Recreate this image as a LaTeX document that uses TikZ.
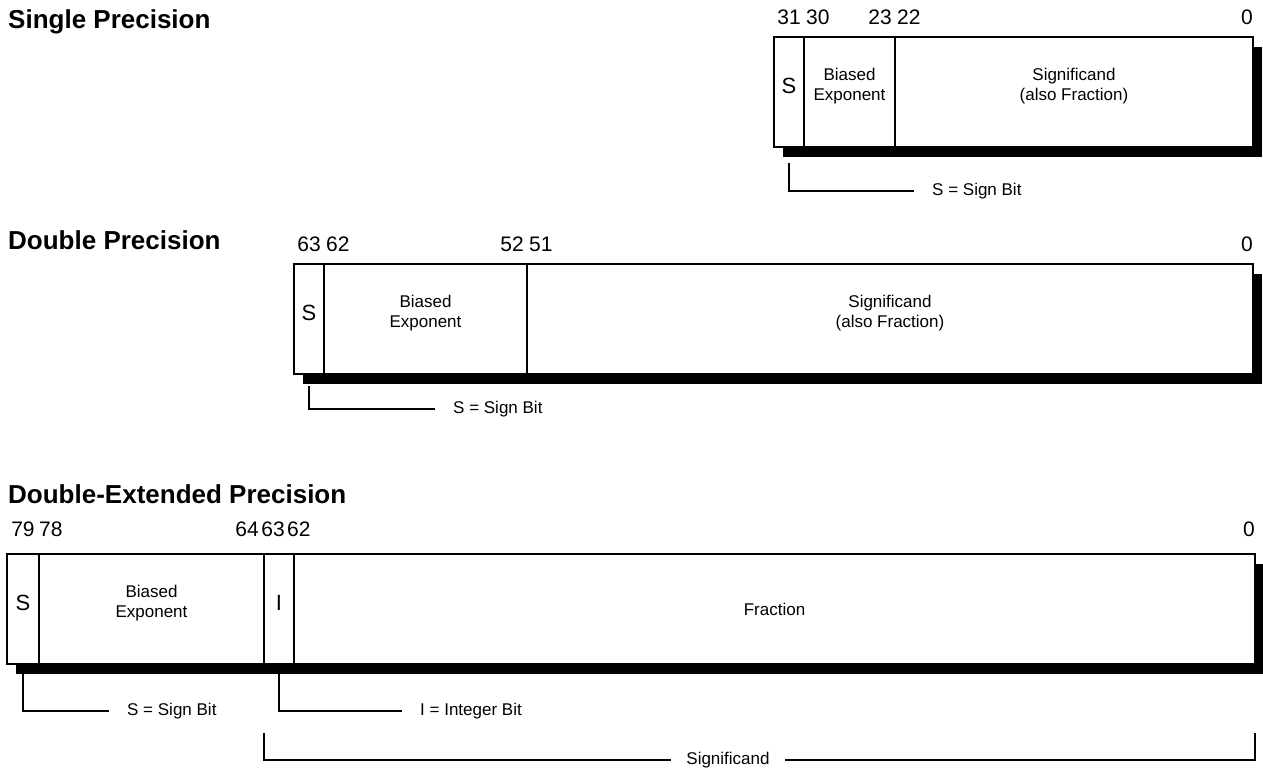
\documentclass[tikz,border=0pt]{standalone}
\usepackage{fontspec}
\setmainfont{Liberation Sans}
\usetikzlibrary{positioning, shadows}

\begin{document}
\begin{tikzpicture}[x=1pt, y=-1pt,
    fld/.style={rectangle, draw, fill=white, line width=2.8pt, minimum width=#1, minimum height=110pt,
                inner sep=0pt, outer sep=0pt,
                drop shadow={shadow xshift=9pt, shadow yshift=-10pt, fill=black, opacity=1}},
    title/.style={font=\fontsize{26}{30}\selectfont\bfseries, anchor=base west, inner sep=0pt},
    bitno/.style={font=\fontsize{21}{25}\selectfont, inner sep=0pt, yshift=12pt},
    bithi/.style={bitno, anchor=south west, xshift=2pt},
    bitlo/.style={bitno, anchor=south east, xshift=-3pt},
    bigtxt/.style={font=\fontsize{22}{26}\selectfont, yshift=6pt},
    txt/.style={font=\fontsize{17}{20}\selectfont, align=center, yshift=6pt},
    note/.style={font=\fontsize{17}{20}\selectfont, inner xsep=18pt, inner ysep=0pt},
    bracket/.style={line width=2.5pt}
  ]
  \useasboundingbox (0,0) rectangle (1263,768);

  \node[title] (tSgl) at (8,29) {Single Precision};
  \node[fld=30pt, anchor=north west] (sS) at (774,37) {};
  \node[fld=91pt, right=0pt of sS] (sE) {};
  \node[fld=358pt, right=0pt of sE] (sF) {};
  \node[bigtxt] (sSt) at (sS) {S};
  \node[txt] (sEt) at (sE) {Biased\\Exponent};
  \node[txt] (sFt) at (sF) {Significand\\(also Fraction)};
  \node[bitno, anchor=south] (s31) at (sS.north) {31};
  \node[bithi] (s30) at (sE.north west) {30};
  \node[bitlo] (s23) at (sE.north east) {23};
  \node[bithi] (s22) at (sF.north west) {22};
  \node[bitlo, xshift=3pt] (s0) at (sF.north east) {0};
  \node[note, anchor=west] (sSgn) at (914,191) {S = Sign Bit};
  \draw[bracket] ([yshift=-16pt]sS.south) |- (sSgn.west);

  \node[title] (tDbl) at (8,249) {Double Precision};
  \node[fld=30pt, anchor=north west] (dS) at (294,264) {};
  \node[fld=203pt, right=0pt of dS] (dE) {};
  \node[fld=726pt, right=0pt of dE] (dF) {};
  \node[bigtxt] (dSt) at (dS) {S};
  \node[txt] (dEt) at (dE) {Biased\\Exponent};
  \node[txt] (dFt) at (dF) {Significand\\(also Fraction)};
  \node[bitno, anchor=south] (d63) at (dS.north) {63};
  \node[bithi] (d62) at (dE.north west) {62};
  \node[bitlo] (d52) at (dE.north east) {52};
  \node[bithi] (d51) at (dF.north west) {51};
  \node[bitlo, xshift=3pt] (d0) at (dF.north east) {0};
  \node[note, anchor=west] (dSgn) at (435,409) {S = Sign Bit};
  \draw[bracket] ([yshift=-12pt]dS.south) |- (dSgn.west);

  \node[title] (tExt) at (8,503) {Double-Extended Precision};
  \node[fld=32pt, anchor=north west] (eS) at (7,554) {};
  \node[fld=225pt, right=0pt of eS] (eE) {};
  \node[fld=30pt, right=0pt of eE] (eI) {};
  \node[fld=961pt, right=0pt of eI] (eF) {};
  \node[bigtxt] (eSt) at (eS) {S};
  \node[txt] (eEt) at (eE) {Biased\\Exponent};
  \node[bigtxt] (eIt) at (eI) {I};
  \node[txt, yshift=-6pt] (eFt) at (eF) {Fraction};
  \node[bitno, yshift=5pt, anchor=south] (e79) at (eS.north) {79};
  \node[bitno, yshift=5pt, anchor=south west] (e78) at (eE.north west) {78};
  \node[bitno, yshift=5pt, xshift=-5pt, anchor=south east] (e64) at (eE.north east) {64};
  \node[bitno, yshift=5pt, xshift=-6pt, anchor=south] (e63) at (eI.north) {63};
  \node[bitno, yshift=5pt, xshift=-7pt, anchor=south west] (e62) at (eF.north west) {62};
  \node[bitno, yshift=5pt, anchor=south east] (e0) at (eF.north east) {0};
  \node[note, anchor=west] (eSgn) at (109,711) {S = Sign Bit};
  \node[note, anchor=west] (eInt) at (402,711) {I = Integer Bit};
  \node[note, inner xsep=15pt] (eSig) at (728,760) {Significand};
  \draw[bracket] ([yshift=-10pt]eS.south) |- (eSgn.west);
  \draw[bracket] ([yshift=-10pt]eI.south) |- (eInt.west);
  \draw[bracket] ([yshift=-69pt]eI.south west) |- (eSig.west);
  \draw[bracket] ([yshift=-69pt]eF.south east) |- (eSig.east);
\end{tikzpicture}
\end{document}
